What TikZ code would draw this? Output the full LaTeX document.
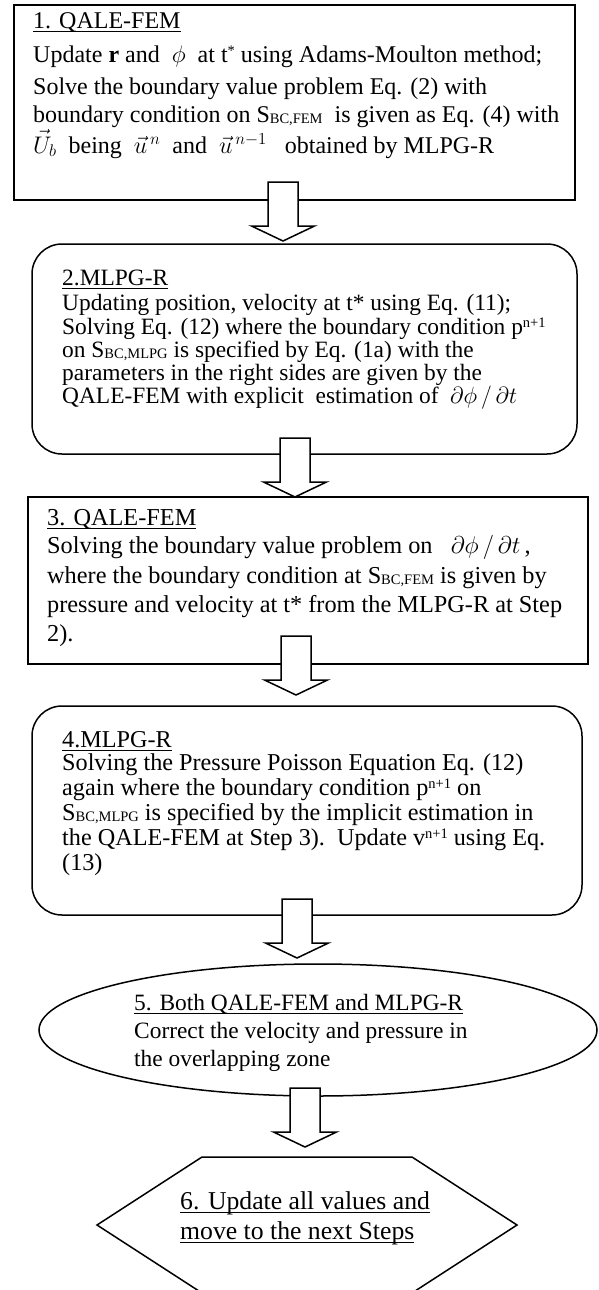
\RequirePackage{fix-cm}
\documentclass[tikz,border=0pt]{standalone}
\usepackage{amsmath}
\usepackage{fontspec}
\setmainfont{Liberation Serif}
\usetikzlibrary{shapes.geometric, calc, positioning}
\setlength{\lineskiplimit}{-20pt}

\newcommand{\steptitle}[1]{\leavevmode\setbox0=\hbox{#1}\rlap{\rule[-4pt]{\wd0}{1.5pt}}\box0}
\newcommand{\supix}[1]{\raisebox{6.5pt}{\fontsize{14.5}{14.5}\selectfont #1}}
\newcommand{\subix}[1]{\raisebox{-1.5pt}{\fontsize{14.5}{14.5}\selectfont #1}}
\newcommand{\flowarrow}[1]{\draw[arrowbody] ($(#1)+(-15,-59)$) -- ($(#1)+(-15,-15)$) -- ($(#1)+(-31.5,-15)$) -- (#1) -- ($(#1)+(31.5,-15)$) -- ($(#1)+(15,-15)$) -- ($(#1)+(15,-59)$) -- cycle;}

\tikzset{
  stepbox/.style={draw, line width=1.5pt, inner sep=0pt, outer sep=0pt},
  roundbox/.style={stepbox, rounded corners=30pt},
  steptext/.style 2 args={anchor=base west, align=left, inner sep=0pt,
    font=\fontsize{#1}{#2}\selectfont},
  arrowbody/.style={draw, line width=1.5pt, fill=white, line join=miter},
}

\begin{document}
\begin{tikzpicture}[x=1pt, y=-1pt]
\useasboundingbox (0,0) rectangle (598,1290);
\node[stepbox, minimum width=561pt, minimum height=195pt] (box1) at (294.5,102.5) {};
\node[roundbox, minimum width=545pt, minimum height=210pt] (box2) at (304.5,349) {};
\node[stepbox, minimum width=560pt, minimum height=167pt] (box3) at (308,580.5) {};
\node[roundbox, minimum width=550pt, minimum height=209pt] (box4) at (307,810.5) {};
\node[stepbox, ellipse, minimum width=558pt, minimum height=132pt] (box5) at (318,1030) {};
\coordinate (hex) at (307,1225);
\draw[stepbox, shift={(hex)}] (-105,-68) -- (105,-68) -- (210,0) -- (105,68) -- (-105,68) -- (-210,0) -- cycle;

\node[steptext={24}{30}] (text1) at (33,153) {\steptitle{1. QALE-FEM}\\[4pt]
Update \textbf{r} and\ \ $\phi$\ \ at t\supix{*} using Adams-Moulton method;\\[2pt]
Solve the boundary value problem Eq. (2) with\\[-2pt]
boundary condition on S\subix{BC,FEM}\ \ is given as Eq. (4) with\\[1pt]
$\vec{U}_b$\ \ being\ \ $\vec{u}^{\,n}$\ \ and\ \ $\vec{u}^{\,n-1}$\ \ \ obtained by MLPG-R};
\node[steptext={23.4}{23}] (text2) at (62,403) {\steptitle{2.MLPG-R}\\[2pt]
Updating position, velocity at t* using Eq. (11);\\[1pt]
Solving Eq. (12) where the boundary condition p\supix{n+1}\\
on S\subix{BC,MLPG} is specified by Eq. (1a) with the\\
parameters in the right sides are given by the\\
QALE-FEM with explicit\ \ estimation of\ \ $\partial\phi\,/\,\partial t$};
\node[steptext={24.3}{29}] (text3) at (47,641) {\steptitle{3. QALE-FEM}\\[-1pt]
Solving the boundary value problem on\ \ \ $\partial\phi\,/\,\partial t$\,,\\[1pt]
where the boundary condition at S\subix{BC,FEM} is given by\\
pressure and velocity at t* from the MLPG-R at Step\\
2).};
\node[steptext={24.2}{25}] (text4) at (62,870) {\steptitle{4.MLPG-R}\\[-2pt]
Solving the Pressure Poisson Equation Eq. (12)\\
again where the boundary condition p\supix{n+1} on\\
S\subix{BC,MLPG} is specified by the implicit estimation in\\
the QALE-FEM at Step 3).\ \ Update v\supix{n+1} using Eq.\\
(13)};
\node[steptext={23.4}{28}] (text5) at (134,1066) {\steptitle{5. Both QALE-FEM and MLPG-R}\\
Correct the velocity and pressure in\\
the overlapping zone};
\node[steptext={25.7}{30}] (text6) at (180,1239) {\steptitle{6. Update all values and}\\
\steptitle{move to the next Steps}};

\coordinate (tip1) at (283,241);
\coordinate (tip2) at (295,497);
\coordinate (tip3) at (296,695);
\coordinate (tip4) at (297,958);
\coordinate (tip5) at (305,1147);
\flowarrow{tip1}
\flowarrow{tip2}
\flowarrow{tip3}
\flowarrow{tip4}
\flowarrow{tip5}
\end{tikzpicture}
\end{document}
